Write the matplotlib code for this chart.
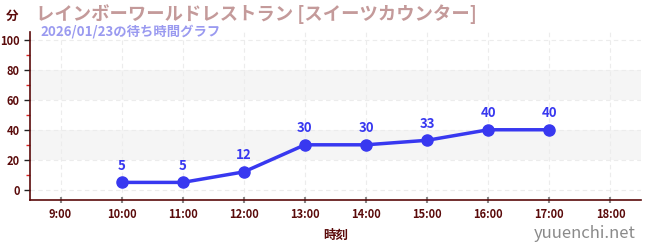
import matplotlib
matplotlib.use("Agg")
import matplotlib.pyplot as plt

plt.rcParams['font.family'] = ['Noto Sans CJK JP', 'DejaVu Sans']

hours = [10, 11, 12, 13, 14, 15, 16, 17]
waits = [5, 5, 12, 30, 30, 33, 40, 40]
tick_hours = list(range(9, 19))
tick_labels = [f"{h}:00" for h in tick_hours]

title = "レインボーワールドレストラン [スイーツカウンター]"
subtitle = "2026/01/23の待ち時間グラフ"

dark = '#5a0a0a'
line_c = '#3838f0'

fig = plt.figure(figsize=(6.5, 2.5), dpi=100)
ax = fig.add_axes([30/650, 1-200/250, 611/650, 168/250])

ax.set_xlim(8.5, 18.5)
ax.set_ylim(-6.7, 105)

# shaded bands
for lo, hi in [(20, 40), (60, 80)]:
    ax.axhspan(lo, hi, color='#f5f5f5', zorder=0, lw=0)

ax.set_yticks([0, 20, 40, 60, 80, 100])
ax.set_yticks([10, 30, 50, 70, 90], minor=True)
ax.set_xticks(tick_hours)
ax.set_xticklabels(tick_labels)
ax.grid(True, which='major', color='#ececec', ls=(0, (4, 3)), lw=0.8)

for s in ['top', 'right']:
    ax.spines[s].set_visible(False)
for s in ['left', 'bottom']:
    ax.spines[s].set_color(dark)
    ax.spines[s].set_linewidth(1.2)

ax.tick_params(axis='y', which='major', colors='#222222', labelcolor=dark, labelsize=8, length=4, width=1)
ax.tick_params(axis='y', which='minor', colors='#dd2222', length=3, width=1)
ax.tick_params(axis='x', colors='#888888', labelcolor=dark, labelsize=8, length=4, width=1.5, direction='inout')
for lb in ax.get_xticklabels() + ax.get_yticklabels():
    lb.set_fontweight('bold')

ax.plot(hours, waits, color=line_c, lw=2.5, marker='o', ms=8, zorder=3)
for h, w in zip(hours, waits):
    ax.annotate(str(w), (h, w), xytext=(0, 7), textcoords='offset points',
                ha='center', va='bottom', color=line_c, fontsize=9.5, fontweight='bold')

ax.set_xlabel("時刻", color=dark, fontsize=9, fontweight='bold', labelpad=6)

fig.text(6/650, 1-16/250, "分", color=dark, fontsize=9, fontweight='bold', va='center')
fig.text(36/650, 1-14/250, title, color='#c49a9a', fontsize=13.2, fontweight='bold', va='center')
fig.text(40/650, 1-32/250, subtitle, color='#9a9af0', fontsize=9.6, fontweight='bold', va='center')
fig.text(636/650, 1-234/250, "yuuenchi.net", color='#8a8a8a', fontsize=12, ha='right', va='center')

fig.savefig("out.png", dpi=100)
